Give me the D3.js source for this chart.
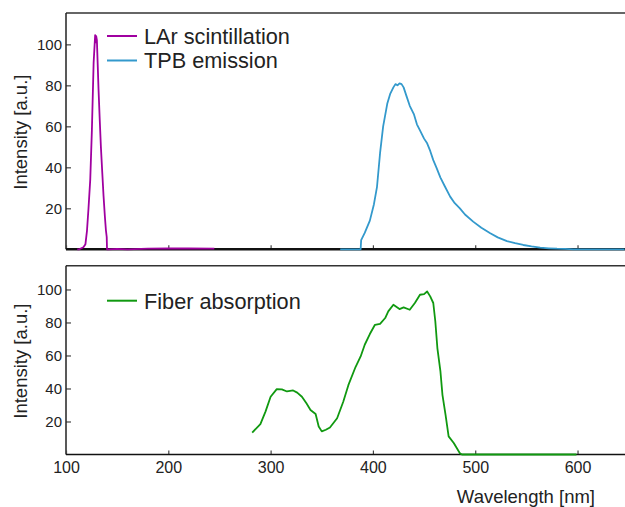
<!DOCTYPE html>
<html>
<head>
<meta charset="utf-8">
<script src="https://cdn.jsdelivr.net/npm/d3@7/dist/d3.min.js"></script>
<style>
  html, body { margin: 0; padding: 0; background: #fff; }
  svg { display: block; font-family: "Liberation Sans", Arial, sans-serif; }
</style>
</head>
<body>
<svg id="chart" width="625" height="507"></svg>
<script>
// ---- Data ----
const larWavelength = [111,113,115,117,119,120.5,122,123.7,125.3,127,128,128.5,129,129.5,130.2,131,131.8,133,134.1,135.5,136.7,138,139,139.8,140.1,141,150,160,180,200,220,245];
const larIntensity  = [0,0,0.5,1,2.5,9,20,34,58,91,100,104.5,101,104,102,90,78,63,50,37,26,16,9.4,6,0,0,0.2,0,0.3,0.4,0.5,0.3];

const tpbWavelength = [368,380,388,388.5,392,397,401,404,407,410,414,417,420,422,424,426,428,430,433,436,440,443,446,450,453,456,459,462,466,470,475.5,480,485,490,498,506,514.7,522,531,539,547,555,563.5,572,580,588,596,620,646];
const tpbIntensity  = [0,0,0,4.5,8,14,22,30.5,47,60,71,76,79,80.6,80,81,80.6,79,74.5,70,66,61,58,54,51.7,48,43.5,40,35,31,25.7,22.5,20,17,13.5,10.5,7.8,5.8,4,3,2.1,1.4,0.8,0.5,0.3,0.2,0,0,0];

const fiberWavelength = [282,290,295,300,306,311,316,322,326,330.6,335,339,344,347,350,354,358,365,371,376,383,388,392,397,402,407,412,415,420,426,430,436,441,446,450,453,456,459,461,463,466,468,471,474,479,485,487,520,560,599];
const fiberIntensity  = [13.3,18.4,26,35,39.6,39.5,38.2,38.8,37.5,35,31,27,24.5,17,14,15,16.4,22,32,42,53,59.4,66.5,73,78.6,79.2,82.7,86.7,90.7,88.1,89.1,87.7,91.8,96.8,97.2,98.8,95.8,91.8,80.6,64.5,50.3,36,24,11,7,0.8,0,0,0,0];

const yTicks = [20, 40, 60, 80, 100];
const xTicks = [100, 200, 300, 400, 500, 600];
const legendTop = ["LAr scintillation", "TPB emission"];
const legendBottom = ["Fiber absorption"];

// ---- Layout ----
const svg = d3.select("#chart");
const left = 66, right = 625;
const top1 = 13, bot1 = 249.3;
const top2 = 265.7, bot2 = 454.5;
const colors = { lar: "#a000a0", tpb: "#3399cc", fiber: "#109910" };
const textColor = "#222";

const x = d3.scaleLinear().domain([100, 646.4]).range([left, right]);
const y1 = d3.scaleLinear().domain([0, 115.3]).range([bot1, top1]);
const y2 = d3.scaleLinear().domain([0, 114.4]).range([bot2, top2]);

const defs = svg.append("defs");
defs.append("clipPath").attr("id", "clip1").append("rect")
  .attr("x", left).attr("y", top1).attr("width", right - left).attr("height", bot1 - top1 + 3);
defs.append("clipPath").attr("id", "clip2").append("rect")
  .attr("x", left).attr("y", top2).attr("width", right - left).attr("height", bot2 - top2 + 2);

function panel(yScale, topY, botY, showXLabels, bottomWidth) {
  svg.append("line").attr("x1", left).attr("x2", right).attr("y1", topY).attr("y2", topY)
    .attr("stroke", "#333").attr("stroke-width", 1.5);
  const ya = svg.append("g").attr("transform", `translate(${left},0)`)
    .call(d3.axisLeft(yScale).tickValues(yTicks).tickSize(-5).tickPadding(4));
  ya.select(".domain").remove();
  ya.selectAll(".tick line").attr("stroke", "#444").attr("stroke-width", 1.2);
  ya.selectAll(".tick text").attr("fill", textColor).style("font-size", "15px");
  svg.append("line").attr("x1", left).attr("x2", left).attr("y1", topY).attr("y2", botY)
    .attr("stroke", "#222").attr("stroke-width", 1.5);
  const xa = svg.append("g").attr("transform", `translate(0,${botY})`)
    .call(d3.axisBottom(x).tickValues(xTicks).tickSize(-4).tickPadding(7)
      .tickFormat(showXLabels ? d3.format("d") : ""));
  xa.select(".domain").remove();
  xa.selectAll(".tick line").attr("stroke", "#444").attr("stroke-width", 1.2);
  xa.selectAll(".tick text").attr("fill", textColor).style("font-size", "16px");
  svg.append("line").attr("x1", left).attr("x2", right).attr("y1", botY).attr("y2", botY)
    .attr("stroke", "#111").attr("stroke-width", bottomWidth);
  svg.append("text")
    .attr("transform", `translate(27,${(topY + botY) / 2 + 1}) rotate(-90)`)
    .attr("text-anchor", "middle").attr("fill", textColor).style("font-size", "18.5px")
    .text("Intensity [a.u.]");
}

panel(y1, top1, bot1, false, 2.5);
panel(y2, top2, bot2, true, 1.5);

svg.append("text").attr("x", 595).attr("y", 503).attr("text-anchor", "end")
  .attr("fill", textColor).style("font-size", "18.5px").text("Wavelength [nm]");

// ---- Lines ----
function drawLine(xs, ys, yScale, color, clip) {
  const pts = xs.map((d, i) => [d, ys[i]]);
  const line = d3.line().x(d => x(d[0])).y(d => yScale(d[1]));
  svg.append("path").datum(pts).attr("clip-path", `url(#${clip})`)
    .attr("d", line).attr("fill", "none").attr("stroke", color)
    .attr("stroke-width", 1.8).attr("stroke-linejoin", "round");
}
drawLine(larWavelength, larIntensity, y1, colors.lar, "clip1");
drawLine(tpbWavelength, tpbIntensity, y1, colors.tpb, "clip1");
drawLine(fiberWavelength, fiberIntensity, y2, colors.fiber, "clip2");

// ---- Legends ----
function legend(labels, cols, y0, step) {
  labels.forEach((lab, i) => {
    const yy = y0 + i * step;
    svg.append("line").attr("x1", 107).attr("x2", 137).attr("y1", yy).attr("y2", yy)
      .attr("stroke", cols[i]).attr("stroke-width", 2);
    svg.append("text").attr("x", 144).attr("y", yy + 7.8)
      .attr("fill", textColor).style("font-size", "21.7px").text(lab);
  });
}
legend(legendTop, [colors.lar, colors.tpb], 36, 24.5);
legend(legendBottom, [colors.fiber], 300.7, 0);
</script>
</body>
</html>
